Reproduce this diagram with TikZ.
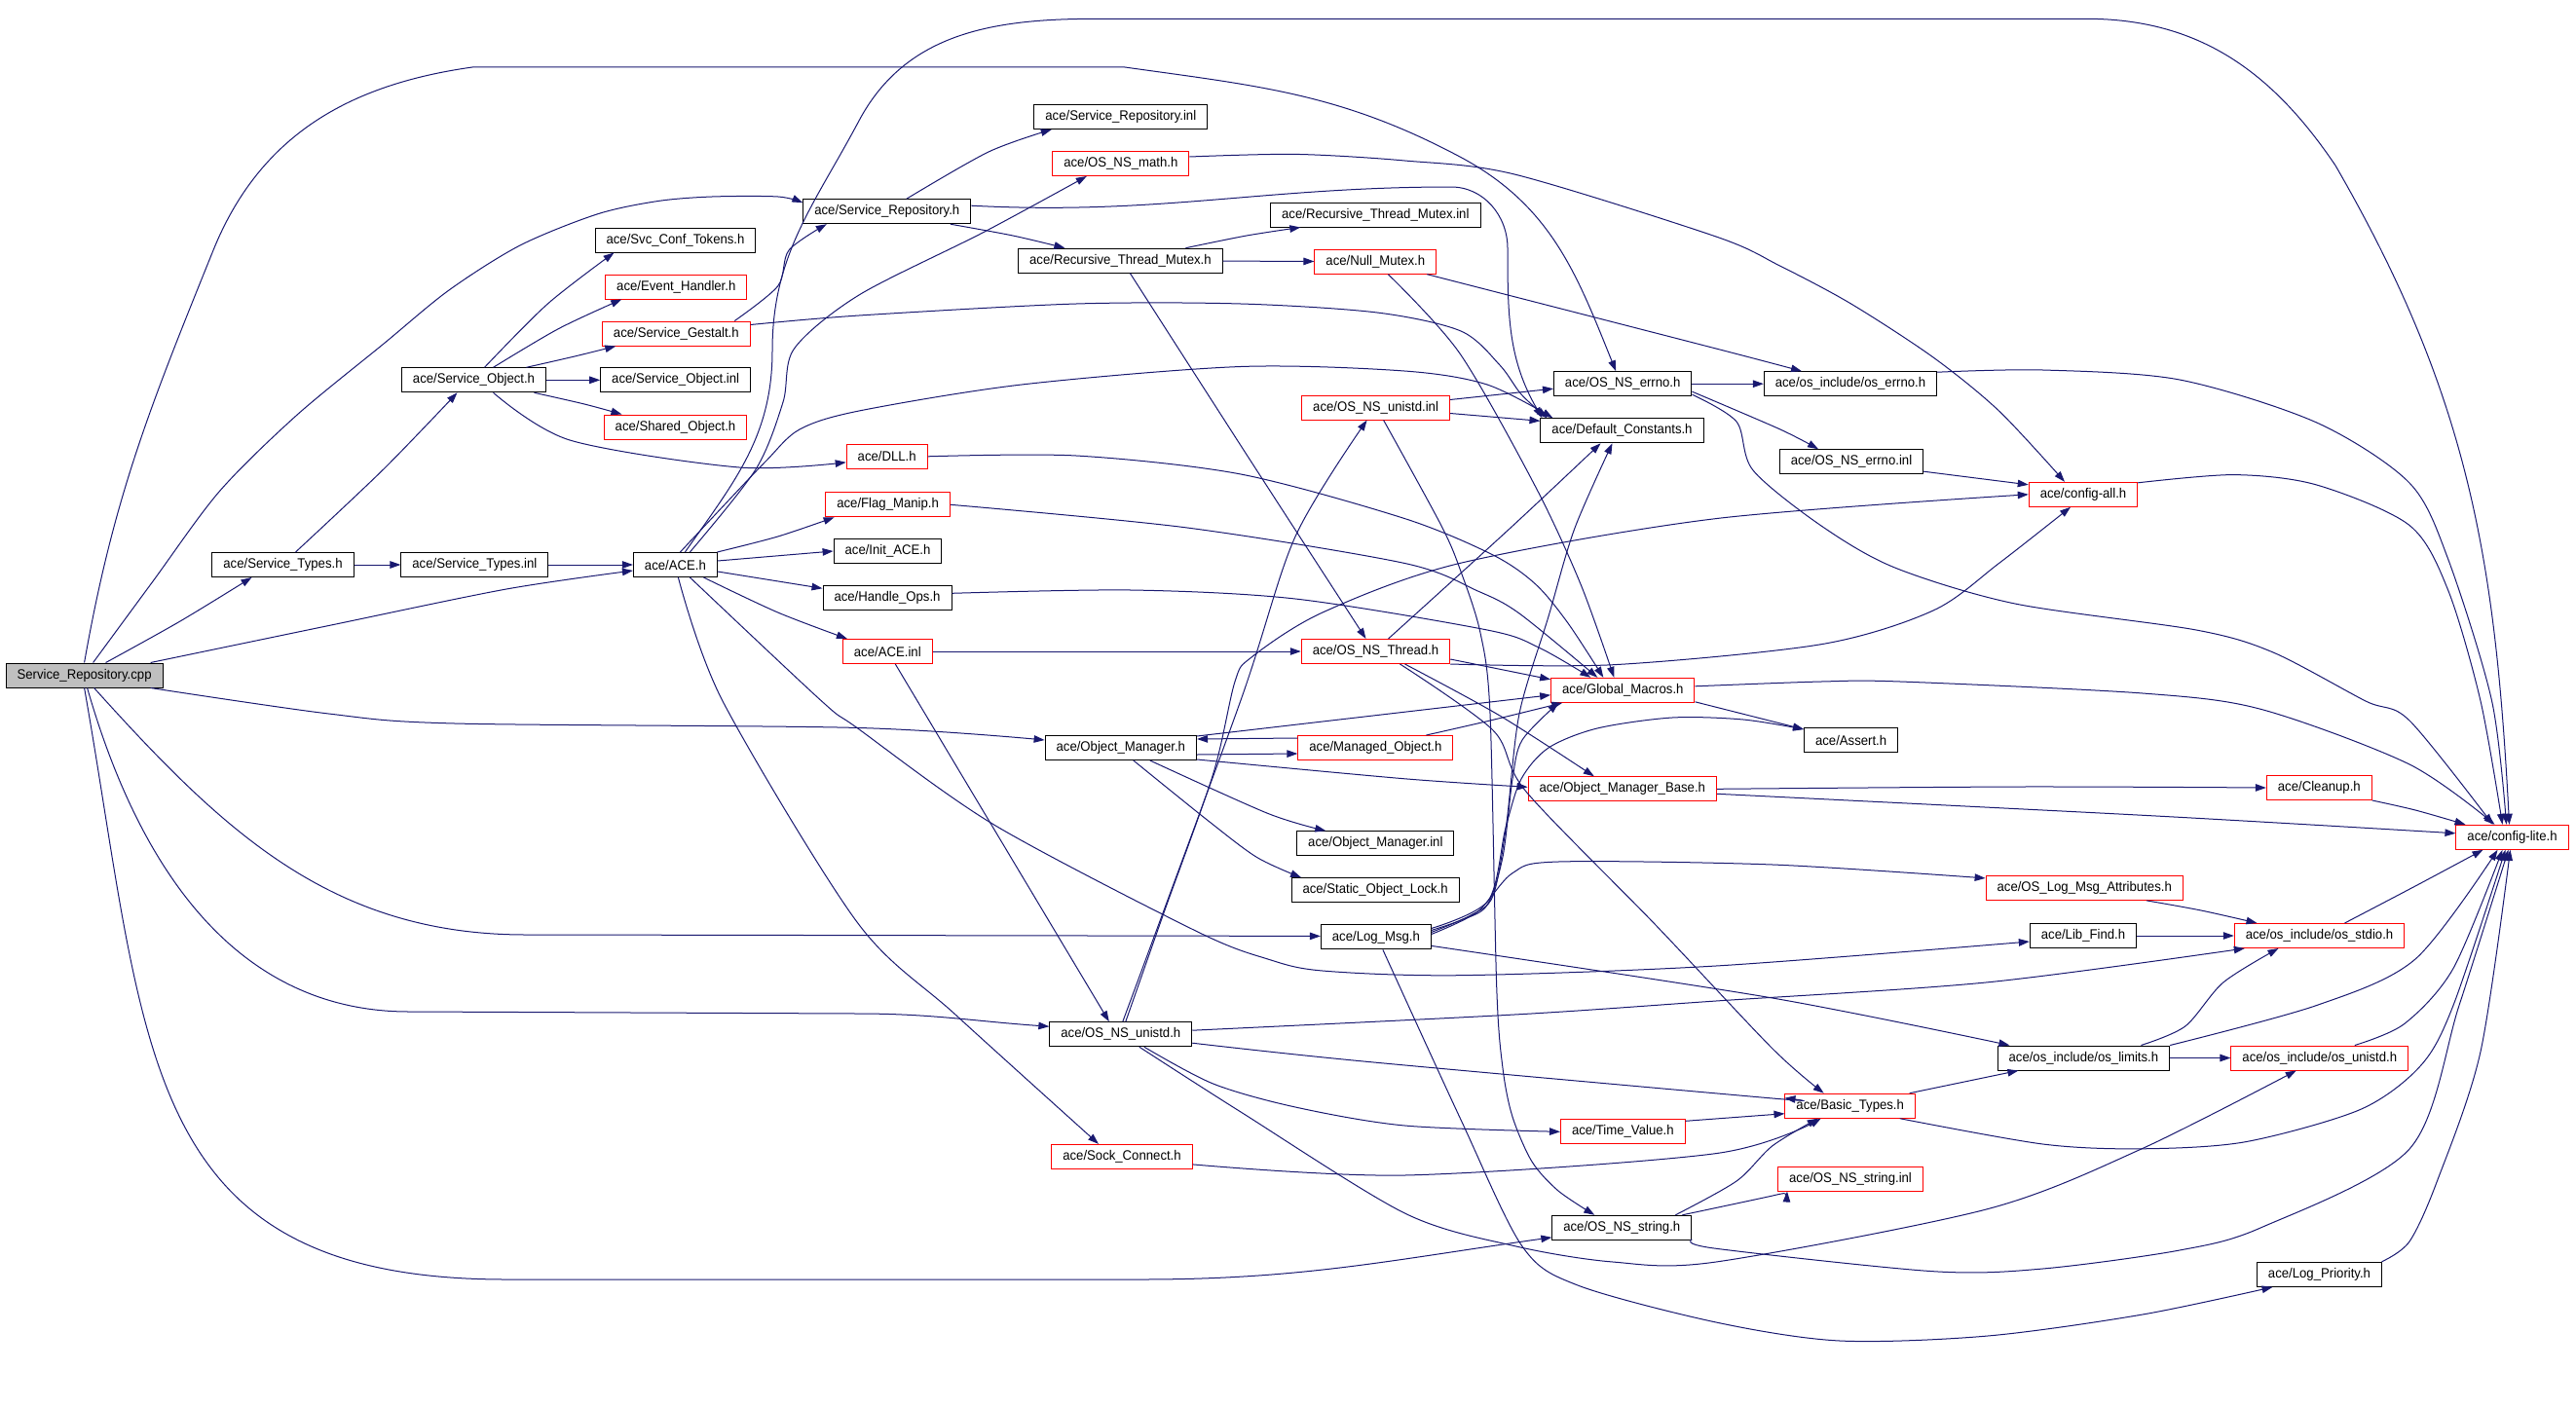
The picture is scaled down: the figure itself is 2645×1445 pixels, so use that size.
\documentclass[tikz,border=0pt]{standalone}
\usepackage{fontspec}
\usepackage{tikz}
\usetikzlibrary{arrows.meta}
\newfontfamily\dotfont{Liberation Sans}[FakeStretch=0.94]
\definecolor{edgeblue}{RGB}{25,25,112}
\definecolor{rootgray}{RGB}{191,191,191}
\begin{document}
\begin{tikzpicture}[x=1pt,y=-1pt,
  file/.style={draw=black,fill=white,line width=1pt,font=\dotfont\fontsize{14}{16}\selectfont,
    inner xsep=11.5pt,inner ysep=0pt,minimum height=25pt},
  redfile/.style={file,draw=red},
  root/.style={file,fill=rootgray},
  dep/.style={draw=edgeblue,line width=1pt,-{Triangle[length=11pt,width=7.5pt]}}]
\useasboundingbox (0,0) rectangle (2645,1445);

% files
\node[root] (cpp) at (86.6,693.5) {Service\_Repository.cpp};
\node[file] (stypes) at (290.5,580) {ace/Service\_Types.h};
\node[file] (stinl) at (487.4,580) {ace/Service\_Types.inl};
\node[file] (ace) at (693.4,580) {ace/ACE.h};
\node[file] (sobj) at (486.5,390.3) {ace/Service\_Object.h};
\node[file] (svc) at (693.5,246.5) {ace/Svc\_Conf\_Tokens.h};
\node[redfile] (evh) at (694.3,294.5) {ace/Event\_Handler.h};
\node[redfile] (gest) at (694.3,342.5) {ace/Service\_Gestalt.h};
\node[file] (soinl) at (693.7,390.3) {ace/Service\_Object.inl};
\node[redfile] (shobj) at (693.5,438.5) {ace/Shared\_Object.h};
\node[file] (srep) at (910.8,217.2) {ace/Service\_Repository.h};
\node[file] (srinl) at (1150.8,120) {ace/Service\_Repository.inl};
\node[redfile] (math) at (1150.8,168) {ace/OS\_NS\_math.h};
\node[file] (rtminl) at (1412.3,220.5) {ace/Recursive\_Thread\_Mutex.inl};
\node[file] (rtm) at (1150.4,267.7) {ace/Recursive\_Thread\_Mutex.h};
\node[redfile] (nullm) at (1412.3,268.7) {ace/Null\_Mutex.h};
\node[file] (errno) at (1666.2,394.2) {ace/OS\_NS\_errno.h};
\node[file] (oserrno) at (1900,394.2) {ace/os\_include/os\_errno.h};
\node[redfile] (unistdinl) at (1412.6,418.5) {ace/OS\_NS\_unistd.inl};
\node[file] (defc) at (1665.5,442.3) {ace/Default\_Constants.h};
\node[file] (errnoinl) at (1901,474.2) {ace/OS\_NS\_errno.inl};
\node[redfile] (cfgall) at (2139,507.8) {ace/config-all.h};
\node[redfile] (dll) at (910.7,468.8) {ace/DLL.h};
\node[redfile] (flag) at (911.6,518.3) {ace/Flag\_Manip.h};
\node[file] (init) at (911.5,566) {ace/Init\_ACE.h};
\node[file] (hops) at (911,614.3) {ace/Handle\_Ops.h};
\node[redfile] (aceinl) at (911.3,669) {ace/ACE.inl};
\node[redfile] (thread) at (1412.5,669) {ace/OS\_NS\_Thread.h};
\node[redfile] (gmac) at (1666.3,708.8) {ace/Global\_Macros.h};
\node[file] (assert) at (1900.6,760) {ace/Assert.h};
\node[file] (objm) at (1150.8,768) {ace/Object\_Manager.h};
\node[redfile] (mobj) at (1412.4,768) {ace/Managed\_Object.h};
\node[redfile] (omb) at (1665.8,810.3) {ace/Object\_Manager\_Base.h};
\node[redfile] (cleanup) at (2381.3,809) {ace/Cleanup.h};
\node[redfile] (cfglite) at (2579.5,859.8) {ace/config-lite.h};
\node[file] (ominl) at (1412.3,866.2) {ace/Object\_Manager.inl};
\node[file] (sol) at (1412.1,914.2) {ace/Static\_Object\_Lock.h};
\node[redfile] (olma) at (2140.2,911.9) {ace/OS\_Log\_Msg\_Attributes.h};
\node[file] (logmsg) at (1412.9,962.4) {ace/Log\_Msg.h};
\node[file] (libfind) at (2139,961) {ace/Lib\_Find.h};
\node[redfile] (stdio) at (2381.5,961) {ace/os\_include/os\_stdio.h};
\node[file] (unistd) at (1150.8,1062.2) {ace/OS\_NS\_unistd.h};
\node[file] (limits) at (2139.4,1086.5) {ace/os\_include/os\_limits.h};
\node[redfile] (osunistd) at (2381.8,1086.5) {ace/os\_include/os\_unistd.h};
\node[redfile] (basic) at (1899.7,1135.7) {ace/Basic\_Types.h};
\node[redfile] (tval) at (1666.3,1162.3) {ace/Time\_Value.h};
\node[redfile] (sock) at (1152,1187.9) {ace/Sock\_Connect.h};
\node[redfile] (strinl) at (1900,1210.5) {ace/OS\_NS\_string.inl};
\node[file] (string) at (1665.3,1260.8) {ace/OS\_NS\_string.h};
\node[file] (logprio) at (2381.5,1308.8) {ace/Log\_Priority.h};

% Service_Repository.cpp
\draw[dep] plot[smooth] coordinates {([xshift=22]cpp.north) (185,638) ([xshift=-32]stypes.south)};
\draw[dep] plot[smooth] coordinates {([xshift=68]cpp.north) (340,642) (520,605) ([yshift=-6]ace.west)};
\draw[dep] plot[smooth] coordinates {([xshift=9]cpp.north) (157,597) (225,505) (304,427) (394,353) (461,298) (534,252) (613,220) (675,206.6) (731,202) (799,202) ([yshift=9]srep.west)};
\draw[dep] (cpp.north) to[out=80,in=-112] (219,257) to[out=68,in=188] (485,69) -- (1155,69)
  to[out=-8,in=152] (1499,161) to[out=-28,in=112] ([xshift=-7]errno.north);
\draw[dep] plot[smooth] coordinates {([xshift=68]cpp.south) (337.5,733) (467,743) (882,747.5) ([yshift=8]objm.west)};
\draw[dep] ([xshift=10]cpp.south) to[out=-48,in=180] (540,960) -- ([yshift=1]logmsg.west);
\draw[dep] ([xshift=3]cpp.south) to[out=-74,in=180] (420,1039) -- (880,1041) to[out=0,in=176] ([yshift=8]unistd.west);
\draw[dep] (cpp.south) to[out=-80,in=180,looseness=1.3] (520,1314) -- (1172,1314) to[out=0,in=188] ([yshift=-10]string.west);

% Service_Types, Service_Object, Service_Gestalt
\draw[dep] (stypes) -- (stinl);
\draw[dep] (stinl) -- (ace);
\draw[dep] plot[smooth] coordinates {([xshift=13]stypes.north) (393.7,482) ([xshift=-17]sobj.south)};
\draw[dep] plot[smooth] coordinates {([xshift=11]sobj.north) (562.4,312) ([xshift=-63]svc.south)};
\draw[dep] plot[smooth] coordinates {([xshift=20]sobj.north) (573.7,337.5) ([xshift=-56]evh.south)};
\draw[dep] plot[smooth] coordinates {([xshift=54]sobj.north) (590,366) ([xshift=-62]gest.south)};
\draw[dep] (sobj) -- (soinl);
\draw[dep] plot[smooth] coordinates {([xshift=62]sobj.south) (600,415) ([xshift=-55]shobj.north)};
\draw[dep] plot[smooth] coordinates {([xshift=20]sobj.south) (585,452) (759,480) ([yshift=-6]dll.west)};
\draw[dep] plot[smooth] coordinates {([xshift=60]gest.north) (798.7,293.8) (810,257) ([xshift=-62]srep.south)};
\draw[dep] plot[smooth] coordinates {([yshift=9]gest.east) (882,324) (1105,312) (1274,312) (1414,321) (1500,340) (1540,375) (1562,405) ([xshift=7]defc.north west)};

% Service_Repository, Recursive_Thread_Mutex, Null_Mutex
\draw[dep] plot[smooth] coordinates {([xshift=20]srep.north) (1015,156) ([xshift=-71]srinl.south)};
\draw[dep] plot[smooth] coordinates {([xshift=65]srep.south) (1040,242) ([xshift=-57]rtm.north)};
\draw[dep] ([yshift=6]srep.east) to[out=-3,in=180] (1490,192) to[out=0,in=90] (1548,255) to[out=-90,in=120] ([xshift=2]defc.north west);
\draw[dep] plot[smooth] coordinates {([xshift=67]rtm.north) (1280,242) ([xshift=-77]rtminl.south)};
\draw[dep] (rtm) -- (nullm);
\draw[dep] plot[smooth] coordinates {([xshift=10]rtm.south) (1282,470) ([xshift=-10]thread.north)};
\draw[dep] plot[smooth] coordinates {([xshift=13]nullm.south) (1498.7,362.7) (1576.7,500) (1623,600) ([xshift=-9]gmac.north)};
\draw[dep] plot[smooth] coordinates {([xshift=53]nullm.south) (1762,358) ([xshift=-50]oserrno.north)};

% ACE.h
\draw[dep] ([xshift=10]ace.north) to[out=55,in=-90] (793,360) to[out=90,in=-118] (882,124)
  to[out=62,in=180] (1127,19.3) -- (2142,19.3) to[out=0,in=124] (2398,170) to[out=-60,in=93] ([xshift=-3]cfglite.north);
\draw[dep] plot[smooth] coordinates {([xshift=15]ace.north) (776,482) (804,413) (815.5,358) (882,303) (1009,239) ([xshift=-35]math.south)};
\draw[dep] plot[smooth] coordinates {([xshift=5]ace.north) (748,514) (787,473) (821,441) (882,422) (1049,395) (1274,376.5) (1442,381) (1527,395) ([xshift=13]defc.north west)};
\draw[dep] plot[smooth] coordinates {([xshift=43]ace.north) (798.7,551) ([xshift=-55]flag.south)};
\draw[dep] ([yshift=4]ace.east) -- (init.west);
\draw[dep] ([yshift=-7]ace.east) -- ([yshift=10]hops.west);
\draw[dep] plot[smooth] coordinates {([xshift=29]ace.south) (798.7,629) ([xshift=5]aceinl.north west)};
\draw[dep] plot[smooth] coordinates {([xshift=3]ace.south) (742,720) (880,947) (981,1042) ([xshift=-24]sock.north)};
\draw[dep] plot[smooth] coordinates {([xshift=15]ace.south) (843.6,720) (880,747.5) (1020.6,847) (1228.7,956.5) (1301.8,985) (1358,997) (1498.7,1001.7) (1762,992) ([yshift=-6]libfind.west)};
\draw[dep] plot[smooth] coordinates {(dll.east) (1105,468) (1274,487) (1442.4,532.6) (1533,570) (1576.7,600) (1610,640) ([xshift=-20]gmac.north)};
\draw[dep] plot[smooth] coordinates {(flag.east) (1217.5,541.8) (1442.4,578.5) (1516.7,606.7) (1560,630) ([xshift=-26]gmac.north)};
\draw[dep] plot[smooth] coordinates {([yshift=5]hops.east) (1161,606) (1330,615) (1527,647) (1580,665) ([xshift=-33]gmac.north)};
\draw[dep] (aceinl) -- (thread);
\draw[dep] ([xshift=8]aceinl.south) -- ([xshift=-12]unistd.north);
\draw[dep] plot[smooth] coordinates {([yshift=7]math.east) (1330,158.4) (1442.4,165) (1555,179) (1762,243) (1827.5,273) (1900.6,312) (1985,367) (2052.5,422) ([xshift=-19]cfgall.north)};

% OS_NS_Thread.h
\draw[dep] plot[smooth] coordinates {([xshift=13]thread.north) (1550,543) ([xshift=-22]defc.south)};
\draw[dep] ([yshift=-8]thread.east) -- ([yshift=11]gmac.west);
\draw[dep] plot[smooth] coordinates {(thread.south east) (1656.7,682.7) (1870,661.7) (1985,627) (2052.5,578.5) ([xshift=-13]cfgall.south)};
\draw[dep] plot[smooth] coordinates {([xshift=30]thread.south) (1540,735) ([xshift=-29]omb.north)};
\draw[dep] plot[smooth] coordinates {([xshift=25]thread.south) (1533,750) (1567,813) (1700,950) (1820,1077) ([xshift=-27]basic.north)};

% OS_NS_unistd.inl, OS_NS_errno.h
\draw[dep] ([yshift=8]unistdinl.east) -- ([yshift=-5]errno.west);
\draw[dep] ([yshift=-6]unistdinl.east) -- ([yshift=10]defc.west);
\draw[dep] plot[smooth] coordinates {([xshift=8]unistdinl.south) (1480,540) (1500,587) (1520,650) (1530,733) (1536.7,1013) (1543,1097) (1553,1147) (1573,1193) (1600,1223) ([xshift=-28]string.north)};
\draw[dep] (errno) -- (oserrno);
\draw[dep] plot[smooth] coordinates {([yshift=-8]errno.east) (1827.5,440.8) ([xshift=-34]errnoinl.north)};
\draw[dep] plot[smooth] coordinates {([yshift=-11]errno.east) (1783,433) (1800,483) (1870,540) (1945.6,583) (2069,620) (2255,647) (2334,670) (2429,720) (2474,740) ([xshift=-20]cfglite.north)};
\draw[dep] plot[smooth] coordinates {([yshift=12]oserrno.east) (2097.5,380) (2238,390) (2378.7,434) (2474,496) (2513.6,574) (2558.6,720) ([xshift=-6]cfglite.north)};
\draw[dep] ([yshift=-10]errnoinl.east) -- ([yshift=10]cfgall.west);
\draw[dep] plot[smooth] coordinates {([yshift=12]cfgall.east) (2294,487.6) (2378.7,498) (2474,539.5) (2513.6,606) (2547,720) ([xshift=-10]cfglite.north)};

% OS_NS_unistd.h
\draw[dep] plot[smooth] coordinates {([xshift=5]unistd.north) (1195,937.5) (1245.6,795) (1268,700) (1285,675) (1358,629) (1498.7,578.5) (1762,532.6) (cfgall.west)};
\draw[dep] plot[smooth] coordinates {([xshift=2]unistd.north) (1273.7,720) (1330,551) ([xshift=-9]unistdinl.south)};
\draw[dep] plot[smooth] coordinates {([yshift=4]unistd.east) (1555,1042) (1762,1028) (2041,1008.8) ([xshift=11]stdio.south west)};
\draw[dep] plot[smooth] coordinates {([yshift=-9]unistd.east) (1400,1090) (1820,1128) ([yshift=8]basic.west)};
\draw[dep] plot[smooth] coordinates {([xshift=24]unistd.south) (1245.6,1113) (1330,1137) (1442.4,1156) (tval.west)};
\draw[dep] plot[smooth] coordinates {([xshift=19]unistd.south) (1273.7,1141.8) (1442.4,1246) (1555,1279.6) (1656,1296) (1762,1296) (2041,1241.6) (2198.7,1180) ([xshift=-24]osunistd.south)};

% Global_Macros.h, Object_Manager.h
\draw[dep] ([yshift=-12]gmac.east) -- ([yshift=11]assert.west);
\draw[dep] plot[smooth] coordinates {([yshift=4]gmac.east) (1870,700) (1951,700) (2200,712) (2322,728.5) (2474,785) ([xshift=-18]cfglite.north)};
\draw[dep] ([yshift=12]objm.east) -- ([yshift=-5]gmac.west);
\draw[dep] ([yshift=-7]objm.east) -- ([yshift=-6]mobj.west);
\draw[dep] ([yshift=10]mobj.west) -- ([yshift=9]objm.east);
\draw[dep] plot[smooth] coordinates {([xshift=52]mobj.north) (1530,740) ([xshift=-62]gmac.south)};
\draw[dep] plot[smooth] coordinates {([yshift=-12]objm.east) (1442.4,799.8) ([yshift=2]omb.west)};
\draw[dep] plot[smooth] coordinates {([xshift=30]objm.south) (1301.8,835.4) ([xshift=-51]ominl.north)};
\draw[dep] plot[smooth] coordinates {([xshift=13]objm.south) (1240,842.5) (1290.6,880.5) ([xshift=-76]sol.north)};
\draw[dep] plot[smooth] coordinates {(omb.east) (2075,808) (cleanup.west)};
\draw[dep] plot[smooth] coordinates {([yshift=-5]omb.east) (2210,837.8) ([yshift=4]cfglite.west)};
\draw[dep] plot[smooth] coordinates {(cleanup.south east) (2480,832) ([xshift=-48]cfglite.north)};

% Log_Msg.h
\draw[dep] plot[smooth] coordinates {([yshift=7]logmsg.east) (1500,945) (1526.7,930) (1543,880) (1553,800) (1563,760) ([xshift=-66]gmac.south)};
\draw[dep] plot[smooth] coordinates {([yshift=5]logmsg.east) (1510,940) (1533,920) (1546.7,846.7) (1560,733) (1590,633) (1616.7,543) ([xshift=-10]defc.south)};
\draw[dep] plot[smooth] coordinates {([yshift=3]logmsg.east) (1516.7,936.7) (1553,896.7) (1600,885) (1820,888) ([yshift=10]olma.west)};
\draw[dep] plot[smooth] coordinates {([yshift=9]logmsg.east) (1528,925) (1546,850) (1562,800) (1590,768) (1640,748) (1717,737) (1790,739) ([yshift=11]assert.west)};
\draw[dep] plot[smooth] coordinates {([yshift=-9]logmsg.east) (1820,1025) ([xshift=-76]limits.north)};
\draw[dep] plot[smooth] coordinates {([xshift=7]logmsg.south) (1500,1150) (1563,1280) (1620,1320) (1762,1358) (1889,1377) (2041,1372) (2200,1350) ([xshift=-48]logprio.south)};

% os_include and the rest
\draw[dep] plot[smooth] coordinates {([xshift=64]olma.south) (2260,935) ([xshift=-64]stdio.north)};
\draw[dep] (libfind) -- (stdio);
\draw[dep] plot[smooth] coordinates {([xshift=26]stdio.north) (2480,910) ([xshift=-30]cfglite.south)};
\draw[dep] plot[smooth] coordinates {([xshift=59]limits.north) (2243.7,1054) (2283,1008.8) ([xshift=-42]stdio.south)};
\draw[dep] plot[smooth] coordinates {(limits.north east) (2378.7,1032.5) (2480,985) ([xshift=-15]cfglite.south)};
\draw[dep] (limits) -- (osunistd);
\draw[dep] plot[smooth] coordinates {([xshift=36]osunistd.north) (2468.7,1051.5) (2519,994.5) ([xshift=-10]cfglite.south)};
\draw[dep] ([xshift=61]basic.north) -- ([xshift=-67]limits.south);
\draw[dep] plot[smooth] coordinates {([xshift=51]basic.south) (2097.5,1175) (2198.7,1179.8) (2305.6,1172.7) (2423.7,1139.4) (2485.6,1094.3) (2519,1032.5) ([xshift=-7]cfglite.south)};
\draw[dep] ([yshift=11]tval.east) -- ([yshift=-8]basic.west);
\draw[dep] plot[smooth] coordinates {([yshift=-8]sock.east) (1442.4,1207) (1762,1184.6) ([xshift=-30]basic.south)};
\draw[dep] plot[smooth] coordinates {([xshift=62]string.north) (1820,1228) ([xshift=-65]strinl.south)};
\draw[dep] plot[smooth] coordinates {([xshift=55]string.north) (1783,1213) (1820,1176.7) ([xshift=-33]basic.south)};
\draw[dep] plot[smooth] coordinates {([yshift=-12]string.east) (1760,1282) (1985,1305.7) (2097.5,1303) (2238,1284) (2322,1260.6) (2474,1180) (2525,1032.5) ([xshift=-4]cfglite.south)};
\draw[dep] plot[smooth] coordinates {([xshift=64]logprio.north) (2474,1275) (2502.4,1213) (2547,1080) ([xshift=-2]cfglite.south)};
\end{tikzpicture}
\end{document}
